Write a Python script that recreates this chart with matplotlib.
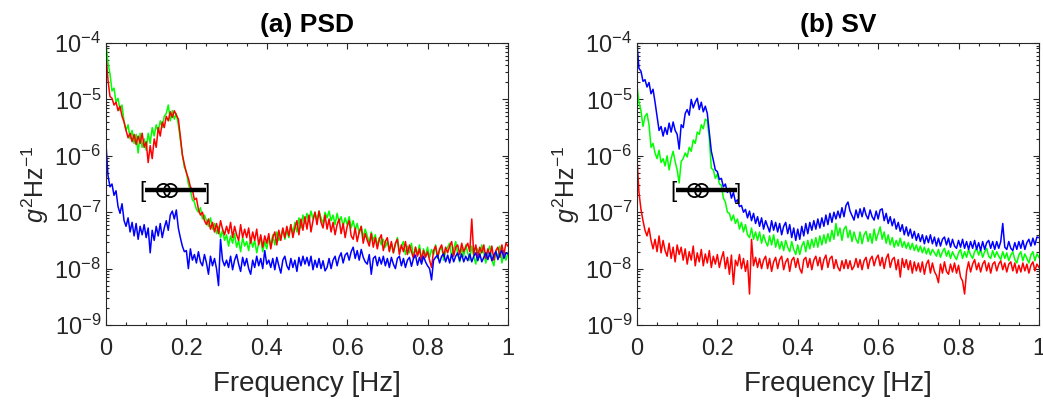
import numpy as np
import matplotlib.pyplot as plt
from matplotlib.ticker import MultipleLocator, LogLocator, NullFormatter

plt.rcParams['font.family'] = ['Liberation Sans', 'DejaVu Sans']
plt.rcParams['mathtext.fontset'] = 'custom'
plt.rcParams['mathtext.rm'] = 'Liberation Sans'
plt.rcParams['mathtext.it'] = 'Liberation Sans:italic'

# frequency grid (Hz), 0.005 Hz step
freq = np.linspace(0, 1, 201)

# ---- panel (a) PSD, values as log10(g^2/Hz) ----
psd_green = [
    -4.00, -4.35, -4.55, -4.85, -4.80, -5.05, -4.98, -5.20, -5.10, -5.40,
    -5.55, -5.45, -5.70, -5.55, -5.78, -5.62, -5.95, -5.60, -5.85, -5.70,
    -5.90, -5.60, -5.78, -5.50, -5.65, -5.45, -5.58, -5.38, -5.50, -5.30,
    -5.25, -5.10, -5.38, -5.20, -5.35, -5.25, -5.45, -5.72, -5.98, -6.20,
    -6.28, -6.50, -6.60, -6.78, -6.82, -6.95, -7.00, -6.92, -7.12, -7.05,
    -7.15, -7.25, -7.10, -7.30, -7.20, -7.38, -7.25, -7.45, -7.32, -7.50,
    -7.40, -7.60, -7.42, -7.55, -7.38, -7.62, -7.50, -7.70, -7.45, -7.60,
    -7.52, -7.68, -7.45, -7.62, -7.50, -7.72, -7.55, -7.48, -7.70, -7.52,
    -7.65, -7.45, -7.60, -7.40, -7.58, -7.35, -7.50, -7.42, -7.30, -7.48,
    -7.32, -7.45, -7.22, -7.38, -7.18, -7.35, -7.10, -7.28, -7.05, -7.20,
    -7.02, -7.18, -6.98, -7.12, -7.00, -7.15, -6.98, -7.10, -7.20, -7.00,
    -7.10, -6.98, -7.15, -7.05, -7.22, -7.02, -7.18, -7.08, -7.25, -7.10,
    -7.22, -7.08, -7.28, -7.15, -7.32, -7.20, -7.38, -7.25, -7.45, -7.30,
    -7.42, -7.55, -7.35, -7.50, -7.40, -7.60, -7.45, -7.58, -7.48, -7.62,
    -7.52, -7.68, -7.55, -7.72, -7.58, -7.45, -7.70, -7.60, -7.52, -7.75,
    -7.60, -7.72, -7.55, -7.80, -7.62, -7.75, -7.58, -7.85, -7.65, -7.78,
    -7.62, -7.80, -7.66, -7.75, -7.58, -7.82, -7.68, -7.60, -7.85, -7.70,
    -7.62, -7.55, -7.80, -7.65, -7.52, -7.75, -7.88, -7.62, -7.78, -7.58,
    -7.72, -7.85, -7.60, -7.78, -7.92, -7.65, -7.80, -7.58, -7.72, -7.90,
    -7.70, -7.60, -7.85, -7.95, -7.68, -7.82, -7.60, -7.90, -7.72, -7.85,
    -7.72]

psd_red = [
    -4.22, -4.65, -4.95, -4.98, -5.10, -5.05, -5.20, -5.12, -5.30, -5.40,
    -5.55, -5.68, -5.60, -5.75, -5.62, -5.80, -5.65, -5.78, -5.60, -5.85,
    -5.75, -6.12, -5.82, -6.05, -5.70, -5.85, -5.50, -5.65, -5.40, -5.50,
    -5.30, -5.38, -5.22, -5.32, -5.20, -5.28, -5.35, -5.65, -5.98, -6.15,
    -6.30, -6.40, -6.55, -6.60, -6.78, -6.75, -6.95, -7.05, -7.00, -7.15,
    -7.22, -7.12, -7.30, -7.18, -7.35, -7.20, -7.38, -7.15, -7.30, -7.40,
    -7.25, -7.38, -7.18, -7.45, -7.25, -7.40, -7.50, -7.22, -7.45, -7.30,
    -7.45, -7.28, -7.55, -7.35, -7.50, -7.30, -7.58, -7.40, -7.62, -7.42,
    -7.55, -7.38, -7.65, -7.45, -7.35, -7.58, -7.32, -7.50, -7.28, -7.45,
    -7.25, -7.42, -7.22, -7.45, -7.28, -7.15, -7.40, -7.12, -7.32, -7.08,
    -7.30, -7.05, -7.35, -7.15, -7.00, -7.22, -6.98, -7.18, -7.28, -7.05,
    -7.30, -7.12, -7.35, -7.18, -7.40, -7.22, -7.12, -7.38, -7.20, -7.45,
    -7.25, -7.15, -7.42, -7.48, -7.28, -7.52, -7.35, -7.25, -7.55, -7.38,
    -7.50, -7.60, -7.38, -7.62, -7.45, -7.65, -7.48, -7.40, -7.68, -7.52,
    -7.45, -7.70, -7.52, -7.72, -7.55, -7.48, -7.75, -7.58, -7.70, -7.52,
    -7.75, -7.58, -7.70, -7.82, -7.62, -7.78, -7.65, -7.85, -7.68, -7.80,
    -7.70, -7.85, -7.98, -7.68, -7.60, -7.80, -7.65, -7.58, -7.78, -7.62,
    -7.72, -7.60, -7.52, -7.78, -7.62, -7.58, -7.75, -7.55, -7.70, -7.62,
    -7.55, -7.70, -7.12, -7.75, -7.58, -7.80, -7.62, -7.72, -7.58, -7.82,
    -7.65, -7.78, -7.60, -7.85, -7.68, -7.62, -7.80, -7.58, -7.75, -7.55,
    -7.60]

psd_blue = [
    -5.78, -6.35, -6.55, -6.50, -6.70, -6.62, -6.90, -7.02, -6.85, -7.15,
    -7.25, -7.10, -7.35, -7.18, -7.42, -7.20, -7.48, -7.25, -7.40, -7.22,
    -7.45, -7.28, -7.72, -7.32, -7.50, -7.25, -7.42, -7.20, -7.45, -7.28,
    -7.15, -7.32, -7.05, -6.98, -7.12, -6.96, -7.28, -7.45, -7.60, -7.70,
    -7.68, -8.00, -7.65, -7.85, -7.75, -7.90, -7.70, -7.88, -7.95, -7.75,
    -7.90, -8.10, -7.78, -7.95, -7.82, -8.00, -8.30, -7.48, -7.85, -7.95,
    -7.85, -7.98, -7.78, -8.02, -7.85, -7.75, -7.92, -8.05, -7.80, -7.95,
    -7.82, -8.00, -8.10, -7.85, -7.98, -7.78, -7.95, -7.82, -8.00, -7.68,
    -7.92, -7.85, -7.98, -7.82, -8.02, -7.80, -7.95, -8.08, -7.85, -7.78,
    -7.95, -8.02, -7.82, -7.98, -7.85, -8.05, -7.80, -7.95, -7.78, -7.92,
    -7.80, -7.95, -7.78, -8.02, -7.85, -7.98, -7.82, -8.00, -7.86, -8.04,
    -7.98, -7.82, -8.00, -7.85, -7.78, -7.95, -7.80, -7.72, -7.90, -7.76,
    -7.72, -7.85, -7.70, -7.62, -7.82, -7.68, -7.85, -7.66, -7.80, -7.88,
    -7.92, -7.75, -8.10, -7.82, -7.78, -7.95, -7.80, -7.92, -7.78, -7.95,
    -7.82, -7.98, -7.80, -7.92, -8.00, -7.82, -7.78, -7.95, -7.82, -7.98,
    -7.85, -7.80, -7.96, -7.82, -7.76, -7.94, -7.80, -7.92, -7.78, -7.88,
    -7.95, -8.00, -8.20, -7.85, -7.80, -7.76, -7.90, -7.78, -7.74, -7.88,
    -7.76, -7.90, -7.74, -7.88, -7.78, -7.72, -7.86, -7.74, -7.88, -7.78,
    -7.86, -7.74, -7.88, -7.78, -7.72, -7.86, -7.74, -7.88, -7.80, -7.72,
    -7.84, -7.72, -7.86, -7.76, -7.70, -7.84, -7.74, -7.68, -7.82, -7.72,
    -7.74]

# ---- panel (b) SV ----
sv_blue = [
    -4.00, -4.45, -4.50, -4.68, -4.65, -4.78, -4.70, -4.90, -4.82, -5.05,
    -5.30, -5.55, -5.48, -5.65, -5.50, -5.62, -5.42, -5.58, -5.40, -5.55,
    -5.62, -5.88, -5.45, -5.50, -5.25, -5.18, -5.28, -5.00, -5.15, -5.05,
    -4.98, -5.18, -5.05, -5.22, -5.12, -5.25, -5.58, -5.92, -6.08, -6.25,
    -6.28, -6.42, -6.40, -6.55, -6.50, -6.65, -6.58, -6.75, -6.65, -6.82,
    -6.78, -6.90, -6.88, -7.00, -6.95, -7.10, -6.98, -7.15, -7.02, -7.20,
    -7.08, -7.25, -7.10, -7.30, -7.15, -7.25, -7.35, -7.15, -7.32, -7.18,
    -7.35, -7.20, -7.40, -7.25, -7.18, -7.38, -7.22, -7.45, -7.28, -7.50,
    -7.30, -7.48, -7.25, -7.42, -7.20, -7.38, -7.18, -7.32, -7.15, -7.30,
    -7.12, -7.28, -7.10, -7.25, -7.05, -7.22, -7.02, -7.18, -7.00, -7.12,
    -6.98, -7.10, -6.92, -7.08, -6.88, -6.82, -6.98, -7.06, -7.14, -6.96,
    -7.10, -6.94, -7.08, -6.92, -7.05, -7.12, -6.96, -7.08, -7.14, -6.98,
    -7.12, -6.96, -6.94, -7.15, -7.02, -7.20, -7.08, -7.24, -7.12, -7.30,
    -7.18, -7.34, -7.22, -7.40, -7.26, -7.42, -7.30, -7.46, -7.34, -7.50,
    -7.38, -7.52, -7.40, -7.56, -7.42, -7.54, -7.40, -7.56, -7.44, -7.60,
    -7.46, -7.60, -7.48, -7.44, -7.58, -7.46, -7.62, -7.48, -7.60, -7.64,
    -7.50, -7.62, -7.48, -7.64, -7.52, -7.66, -7.52, -7.64, -7.50, -7.66,
    -7.54, -7.68, -7.52, -7.66, -7.54, -7.50, -7.64, -7.52, -7.66, -7.52,
    -7.64, -7.52, -7.20, -7.62, -7.66, -7.52, -7.64, -7.68, -7.54, -7.66,
    -7.52, -7.64, -7.50, -7.66, -7.54, -7.48, -7.60, -7.46, -7.58, -7.44,
    -7.45]

sv_green = [
    -4.75, -5.05, -5.20, -5.48, -5.30, -5.25, -5.45, -5.85, -5.78, -5.95,
    -6.05, -5.90, -6.12, -6.05, -6.18, -6.00, -6.25, -6.05, -5.92, -6.10,
    -6.25, -6.48, -6.10, -6.05, -5.95, -6.02, -5.85, -5.92, -5.72, -5.78,
    -5.58, -5.62, -5.45, -5.52, -5.35, -5.38, -5.70, -6.22, -6.25, -6.40,
    -6.32, -6.50, -6.52, -6.75, -6.82, -7.00, -7.02, -7.15, -7.05, -7.20,
    -7.12, -7.30, -7.18, -7.35, -7.22, -7.40, -7.45, -7.28, -7.48, -7.35,
    -7.50, -7.35, -7.55, -7.40, -7.52, -7.60, -7.42, -7.58, -7.40, -7.62,
    -7.48, -7.65, -7.52, -7.68, -7.50, -7.62, -7.70, -7.52, -7.66, -7.75,
    -7.58, -7.75, -7.60, -7.52, -7.70, -7.50, -7.65, -7.48, -7.62, -7.45,
    -7.62, -7.42, -7.58, -7.40, -7.55, -7.38, -7.52, -7.32, -7.48, -7.20,
    -7.42, -7.28, -7.50, -7.30, -7.25, -7.45, -7.32, -7.52, -7.35, -7.48,
    -7.55, -7.35, -7.56, -7.40, -7.34, -7.52, -7.38, -7.55, -7.30, -7.50,
    -7.38, -7.26, -7.48, -7.35, -7.55, -7.40, -7.58, -7.45, -7.62, -7.50,
    -7.60, -7.46, -7.62, -7.52, -7.64, -7.54, -7.66, -7.55, -7.68, -7.58,
    -7.70, -7.60, -7.72, -7.62, -7.74, -7.64, -7.76, -7.66, -7.72, -7.78,
    -7.66, -7.80, -7.70, -7.64, -7.78, -7.68, -7.82, -7.70, -7.78, -7.84,
    -7.72, -7.66, -7.82, -7.70, -7.80, -7.66, -7.76, -7.82, -7.70, -7.64,
    -7.76, -7.66, -7.80, -7.70, -7.64, -7.78, -7.82, -7.68, -7.80, -7.70,
    -7.78, -7.84, -7.70, -7.82, -7.72, -7.86, -7.76, -7.70, -7.84, -7.90,
    -7.76, -7.70, -7.86, -7.74, -7.82, -7.90, -7.76, -7.70, -7.86, -7.74,
    -7.80]

sv_red = [
    -6.04, -6.65, -6.95, -7.15, -7.32, -7.42, -7.28, -7.50, -7.65, -7.48,
    -7.70, -7.42, -7.72, -7.50, -7.68, -7.78, -7.55, -7.82, -7.62, -7.88,
    -7.58, -7.75, -7.62, -7.85, -7.65, -7.92, -7.70, -7.85, -7.60, -7.95,
    -7.72, -7.88, -7.66, -7.95, -7.74, -7.90, -7.68, -7.98, -7.78, -7.92,
    -7.75, -7.98, -7.82, -7.70, -8.00, -7.80, -8.10, -7.76, -8.28, -7.85,
    -7.95, -7.75, -8.00, -7.82, -8.05, -7.86, -8.45, -7.48, -7.95, -7.80,
    -7.98, -7.82, -8.00, -7.85, -7.78, -8.00, -7.82, -8.05, -7.88, -7.80,
    -8.00, -7.84, -7.78, -8.02, -7.88, -7.82, -8.05, -7.85, -7.80, -7.98,
    -7.82, -8.00, -8.08, -7.84, -7.80, -7.98, -7.82, -8.02, -7.85, -7.78,
    -7.95, -7.80, -8.02, -7.84, -7.76, -7.98, -7.82, -7.78, -8.00, -7.84,
    -7.98, -8.04, -7.86, -8.00, -7.84, -8.00, -7.86, -8.02, -7.96, -7.82,
    -7.98, -7.84, -8.02, -7.86, -7.80, -8.00, -7.84, -7.78, -7.95, -7.82,
    -7.76, -7.95, -7.80, -8.00, -7.82, -7.74, -7.98, -7.84, -7.80, -8.02,
    -7.84, -8.15, -7.82, -7.98, -7.84, -8.02, -7.86, -8.08, -7.88, -8.04,
    -7.90, -8.06, -7.88, -8.10, -7.92, -7.85, -8.08, -7.90, -8.05, -8.12,
    -8.25, -7.92, -8.08, -7.88, -8.05, -8.10, -7.92, -8.06, -7.90, -8.08,
    -7.94, -8.15, -8.22, -8.45, -8.05, -7.88, -8.06, -7.92, -7.84, -8.02,
    -7.90, -8.06, -7.92, -7.86, -8.04, -7.90, -8.08, -7.92, -7.88, -8.04,
    -7.92, -7.86, -8.02, -7.90, -8.06, -7.92, -7.88, -8.04, -7.90, -8.08,
    -7.94, -8.06, -7.90, -8.04, -7.92, -8.08, -7.94, -7.88, -8.04, -7.92,
    -7.98]

# marker: two circles on a horizontal bar with bracket ends
circle_f = [0.142, 0.160]
bar_f = [0.097, 0.248]
bracket_f = [0.092, 0.252]
marker_level = 2.5e-7

panels = [
    ('(a) PSD', [(psd_green, '#00ff00'), (psd_red, '#ff0000'), (psd_blue, '#0000ff')]),
    ('(b) SV', [(sv_red, '#ff0000'), (sv_green, '#00ff00'), (sv_blue, '#0000ff')]),
]

fig = plt.figure(figsize=(10.43, 4.03), dpi=100)
lefts = [0.1016, 0.6107]
tick_col = '#262626'

for left, (title, series) in zip(lefts, panels):
    ax = fig.add_axes([left, 0.1935, 0.3854, 0.6998])
    for vals, col in series:
        ax.plot(freq, 10 ** np.array(vals), color=col, lw=1.1)

    # bar with circles and brackets
    ax.plot(bar_f, [marker_level, marker_level], color='k', lw=3.2, solid_capstyle='butt')
    ax.plot(circle_f, [marker_level] * 2, 'o', mfc='none', mec='k', ms=9.5, mew=1.3)
    ax.text(bracket_f[0], marker_level * 0.92, '[', ha='center', va='center',
            fontsize=16, color='k')
    ax.text(bracket_f[1], marker_level * 0.85, ']', ha='center', va='center',
            fontsize=16, color='k')

    ax.set_yscale('log')
    ax.set_xlim(0, 1)
    ax.set_ylim(1e-9, 1e-4)
    ax.set_xticks([0, 0.2, 0.4, 0.6, 0.8, 1.0])
    ax.set_xticklabels(['0', '0.2', '0.4', '0.6', '0.8', '1'])
    ax.xaxis.set_minor_locator(MultipleLocator(0.05))
    ax.yaxis.set_major_locator(LogLocator(base=10, numticks=10))
    ax.yaxis.set_minor_locator(LogLocator(base=10, subs=np.arange(2, 10), numticks=10))
    ax.yaxis.set_minor_formatter(NullFormatter())
    ax.tick_params(which='both', direction='in', top=True, right=True,
                   colors=tick_col, labelsize=17, width=0.8)
    ax.tick_params(axis='x', which='major', pad=9)
    ax.tick_params(which='major', length=4)
    ax.tick_params(which='minor', length=2.2)
    for sp in ax.spines.values():
        sp.set_color(tick_col)
        sp.set_linewidth(0.8)

    ax.set_title(title, fontsize=19, fontweight='bold', pad=8)
    ax.set_xlabel('Frequency [Hz]', fontsize=20, color=tick_col, labelpad=8)
    ax.set_ylabel(r'$g^2$Hz$^{-1}$', fontsize=18, color=tick_col, labelpad=2)

fig.savefig('out.png', dpi=100)
